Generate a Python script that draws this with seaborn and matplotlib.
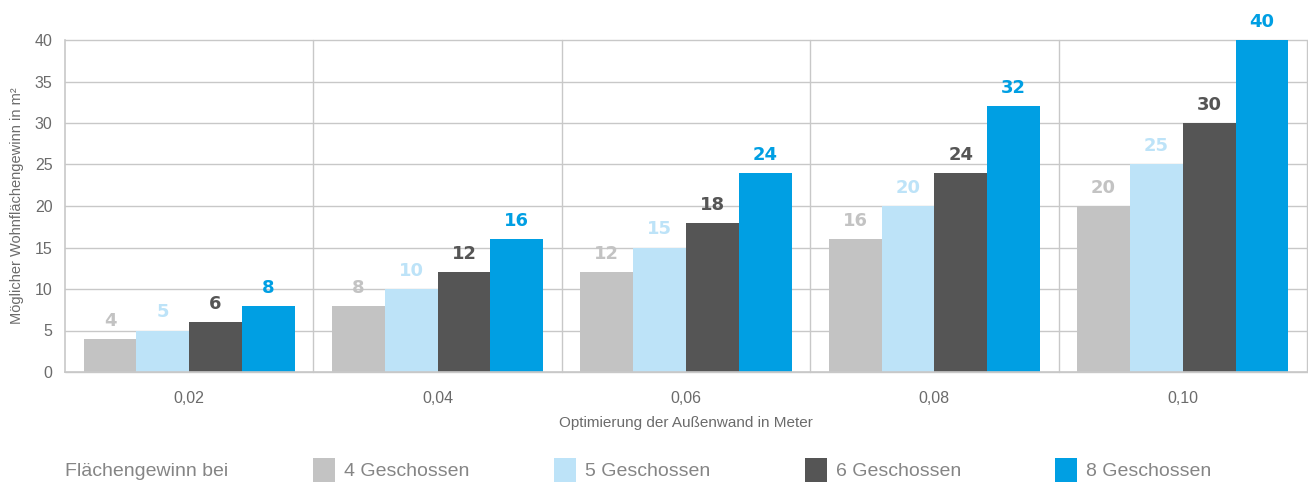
import matplotlib
matplotlib.use("Agg")
import matplotlib.pyplot as plt
import matplotlib.patches as mpatches
import seaborn as sns
import pandas as pd
import numpy as np

# Daten
meter = ["0,02", "0,04", "0,06", "0,08", "0,10"]
geschosse = ["4 Geschossen", "5 Geschossen", "6 Geschossen", "8 Geschossen"]
gewinn_4 = [4, 8, 12, 16, 20]
gewinn_5 = [5, 10, 15, 20, 25]
gewinn_6 = [6, 12, 18, 24, 30]
gewinn_8 = [8, 16, 24, 32, 40]
y_ticks = [0, 5, 10, 15, 20, 25, 30, 35, 40]

farben = ["#c3c3c3", "#bde3f8", "#555555", "#009fe3"]

sns.set_theme(style="white")
plt.rcParams['font.family'] = ['Liberation Sans', 'DejaVu Sans']

filas = []
for g, werte in zip(geschosse, [gewinn_4, gewinn_5, gewinn_6, gewinn_8]):
    for m, v in zip(meter, werte):
        filas.append({"Meter": m, "Geschosse": g, "Wert": v})
df = pd.DataFrame(filas)

W, H = 1308, 482
fig = plt.figure(figsize=(W / 100, H / 100), dpi=100)
ax = fig.add_axes([65 / W, (H - 372) / H, (1307 - 65) / W, (372 - 40) / H])

sns.barplot(data=df, x="Meter", y="Wert", hue="Geschosse", order=meter,
            hue_order=geschosse, palette=farben, width=0.85, gap=0,
            saturation=1, legend=False, ax=ax, edgecolor="none", linewidth=0)

# Werte über den Balken
for cont, col in zip(ax.containers, farben):
    ax.bar_label(cont, labels=[f"{int(v)}" for v in cont.datavalues],
                 color=col, fontsize=13, fontweight='bold', padding=6.5,
                 family='DejaVu Sans', clip_on=False)

grid_col = "#c8c8c8"
ax.set_ylim(0, 40)
ax.set_xlim(-0.5, len(meter) - 0.5)
ax.set_yticks(y_ticks)
ax.set_xticks(np.arange(0.5, len(meter) - 0.5 + 0.01, 1), minor=True)
ax.grid(axis='y', which='major', color=grid_col, linewidth=1)
ax.grid(axis='x', which='minor', color=grid_col, linewidth=1)
ax.set_axisbelow(True)
for t in ax.yaxis.get_major_ticks() + ax.xaxis.get_minor_ticks():
    t.gridline.set_clip_on(False)

for s in ["top", "right"]:
    ax.spines[s].set_visible(False)
for s in ["left", "bottom"]:
    ax.spines[s].set_color(grid_col)
    ax.spines[s].set_linewidth(1.2)

ax.tick_params(axis='both', which='both', length=0, labelsize=11.5,
               labelcolor="#6b6b6b")
ax.tick_params(axis='y', pad=9)
ax.tick_params(axis='x', pad=14)
ax.set_xlabel("Optimierung der Außenwand in Meter", fontsize=11,
              color="#6b6b6b", labelpad=7)
ax.set_ylabel("Möglicher Wohnflächengewinn in m²", fontsize=10.5,
              color="#6b6b6b", labelpad=8)

# Legende unten
ly = 1 - 471 / H
fig.text(65 / W, ly, "Flächengewinn bei", fontsize=14, color="#858585",
         va="center", ha="left")
for x_patch, g, col in zip([313, 554, 805, 1055], geschosse, farben):
    fig.patches.append(mpatches.Rectangle((x_patch / W, 1 - 482 / H), 22 / W, 24 / H,
                                          transform=fig.transFigure,
                                          facecolor=col, edgecolor="none"))
    fig.text((x_patch + 31) / W, ly, g, fontsize=14, color="#858585",
             va="center", ha="left")

fig.savefig("out.png", dpi=100)
plt.close(fig)
